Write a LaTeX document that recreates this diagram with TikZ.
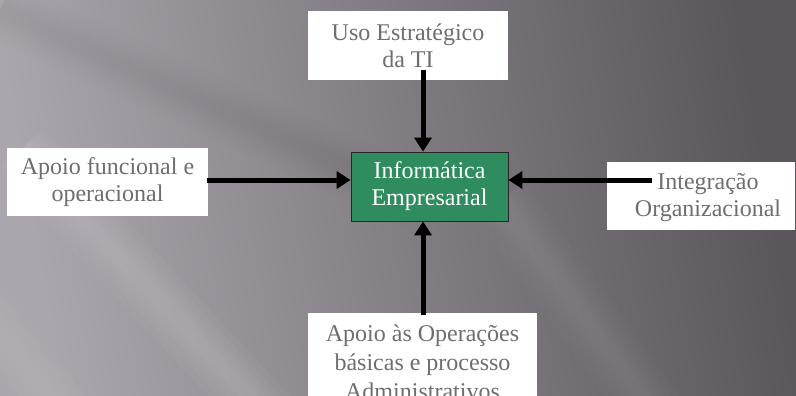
\documentclass[tikz,border=0pt]{standalone}
\usepackage{fontspec}
\setmainfont{Liberation Serif}
\usetikzlibrary{arrows.meta}
\definecolor{txtgray}{RGB}{110,110,110}
\definecolor{boxgreen}{RGB}{46,140,94}
\definecolor{bgA}{RGB}{171,165,173}
\definecolor{bgB}{RGB}{122,116,123}
\definecolor{bgC}{RGB}{91,86,92}
\tikzset{
  whitebox/.style={draw=none, fill=white, text=txtgray, align=center, inner sep=0pt,
    font=\fontsize{24}{27}\selectfont},
  greenbox/.style={draw=black!85, line width=0.8pt, fill=boxgreen, text=white, align=center,
    inner sep=0pt, font=\fontsize{24}{27}\selectfont},
  arr/.style={line width=5pt, -{Triangle[width=17pt,length=14pt]}, black},
  streak/.style={line cap=butt, line width=#1},
}
\begin{document}
\begin{tikzpicture}[x=1pt,y=-1pt]
\useasboundingbox (0,0) rectangle (796,396);
% background
\shade[left color=bgA, middle color=bgB, right color=bgC, shading angle=100] (0,0) rectangle (796,396);
\begin{scope}
\clip (0,0) rectangle (796,396);
\foreach \w in {60,46,34,24,14}{
  \draw[white, opacity=0.03, streak=\w] (20,150) -- (290,440);
  \draw[white, opacity=0.025, streak=\w] (-60,250) -- (80,440);
  \draw[black, opacity=0.012, streak=\w] (0,10) -- (420,200);
  \draw[white, opacity=0.015, streak=\w] (500,200) -- (660,420);
}
\end{scope}
% nodes
\node[whitebox, minimum width=200pt, minimum height=69pt] (top) at (408,45.5) {Uso Estratégico\\da TI};
\node[whitebox, minimum width=201pt, minimum height=68pt] (left) at (107.5,182) {Apoio funcional e\\operacional};
\node[greenbox, minimum width=157pt, minimum height=69pt] (center) at (429.5,186.5) {Informática\\Empresarial};
\node[whitebox, minimum width=188pt, minimum height=68pt] (right) at (701,196) {};
\node[whitebox] (righttext) at (708,198) {Integração\\Organizacional};
\node[whitebox, minimum width=229pt, minimum height=100pt, anchor=north] (bottom) at (422.5,313) {};
\node[whitebox, anchor=base, font=\fontsize{24}{29}\selectfont] (bottomtext) at (422.5,399) {Apoio às Operações\\básicas e processo\\Administrativos};
% connector start points
\coordinate (ts) at (423,70);
\coordinate (ls) at (207,180);
\coordinate (rs) at (652,180);
\coordinate (bs) at (423,315);
% arrows
\draw[arr] (ts) -- (ts |- center.north);
\draw[arr] (ls) -- (ls -| center.west);
\draw[arr] (rs) -- (rs -| center.east);
\draw[arr] (bs) -- (bs |- center.south);
\end{tikzpicture}
\end{document}
